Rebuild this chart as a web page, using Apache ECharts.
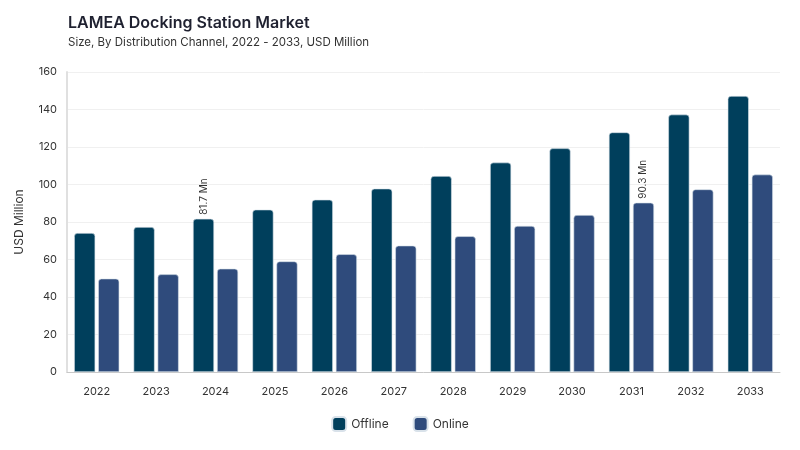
<!DOCTYPE html>
<html>
<head>
<meta charset="utf-8">
<script src="https://cdn.jsdelivr.net/npm/echarts@6/dist/echarts.min.js"></script>
<style>
  html, body { margin: 0; padding: 0; background: #fff; }
  #chart { width: 800px; height: 450px; }
</style>
</head>
<body>
<div id="chart"></div>
<script>
var years = ['2022', '2023', '2024', '2025', '2026', '2027', '2028', '2029', '2030', '2031', '2032', '2033'];
var offline = [74.1, 77.3, 81.7, 86.6, 91.9, 97.8, 104.5, 111.7, 119.3, 127.8, 137.3, 147.2];
var online = [49.8, 52.1, 55.1, 59.0, 62.8, 67.4, 72.4, 77.9, 83.7, 90.3, 97.4, 105.3];
var yTicks = [0, 20, 40, 60, 80, 100, 120, 140, 160];
// which bar gets a value label: series name -> year
var labelled = { Offline: '2024', Online: '2031' };

var font = 'Inter, "Noto Sans", sans-serif';

function withLabel(name, values) {
  return values.map(function (v, i) {
    if (years[i] !== labelled[name]) return v;
    return {
      value: v,
      label: {
        show: true,
        position: 'top',
        rotate: 90,
        align: 'left',
        verticalAlign: 'middle',
        distance: 4,
        fontFamily: font,
        fontSize: 10,
        color: '#333',
        formatter: '{c} Mn'
      }
    };
  });
}

var myChart = echarts.init(document.getElementById('chart'));
myChart.setOption({
  animation: false,
  title: {
    text: 'LAMEA Docking Station Market',
    subtext: 'Size, By Distribution Channel, 2022 - 2033, USD Million',
    left: 63,
    top: 10,
    itemGap: 6,
    textStyle: { fontFamily: font, fontSize: 16, fontWeight: 600, color: '#1f2130' },
    subtextStyle: { fontFamily: font, fontSize: 11.5, color: '#333' }
  },
  legend: {
    bottom: 13,
    left: 'center',
    icon: 'roundRect',
    itemWidth: 14,
    itemHeight: 14,
    itemGap: 24,
    textStyle: { fontFamily: font, fontSize: 12, color: '#333' },
    data: ['Offline', 'Online']
  },
  grid: { left: 67, right: 20, top: 72, bottom: 78 },
  xAxis: {
    type: 'category',
    data: years,
    axisTick: { show: false },
    axisLine: { lineStyle: { color: '#c8c8c8' } },
    axisLabel: { fontFamily: font, fontSize: 11, color: '#333', margin: 14 }
  },
  yAxis: {
    type: 'value',
    min: yTicks[0],
    max: yTicks[yTicks.length - 1],
    interval: yTicks[1] - yTicks[0],
    name: 'USD Million',
    nameLocation: 'middle',
    nameGap: 42,
    nameTextStyle: { fontFamily: font, fontSize: 12, color: '#333' },
    axisLine: { show: true, lineStyle: { color: '#e0e0e0', width: 2 } },
    axisLabel: { fontFamily: font, fontSize: 11, color: '#333', margin: 10 },
    splitLine: { lineStyle: { color: '#f0f0f0' } }
  },
  series: [{
    name: 'Offline',
    type: 'bar',
    data: withLabel('Offline', offline),
    barGap: '14%',
    barCategoryGap: '24%',
    itemStyle: { color: '#003f5c', borderRadius: [3, 3, 0, 0], borderColor: '#d9e2ea', borderWidth: 0.6 }
  }, {
    name: 'Online',
    type: 'bar',
    data: withLabel('Online', online),
    itemStyle: { color: '#2f4b7c', borderRadius: [3, 3, 0, 0], borderColor: '#d9e2ea', borderWidth: 0.6 }
  }]
});
</script>
</body>
</html>
